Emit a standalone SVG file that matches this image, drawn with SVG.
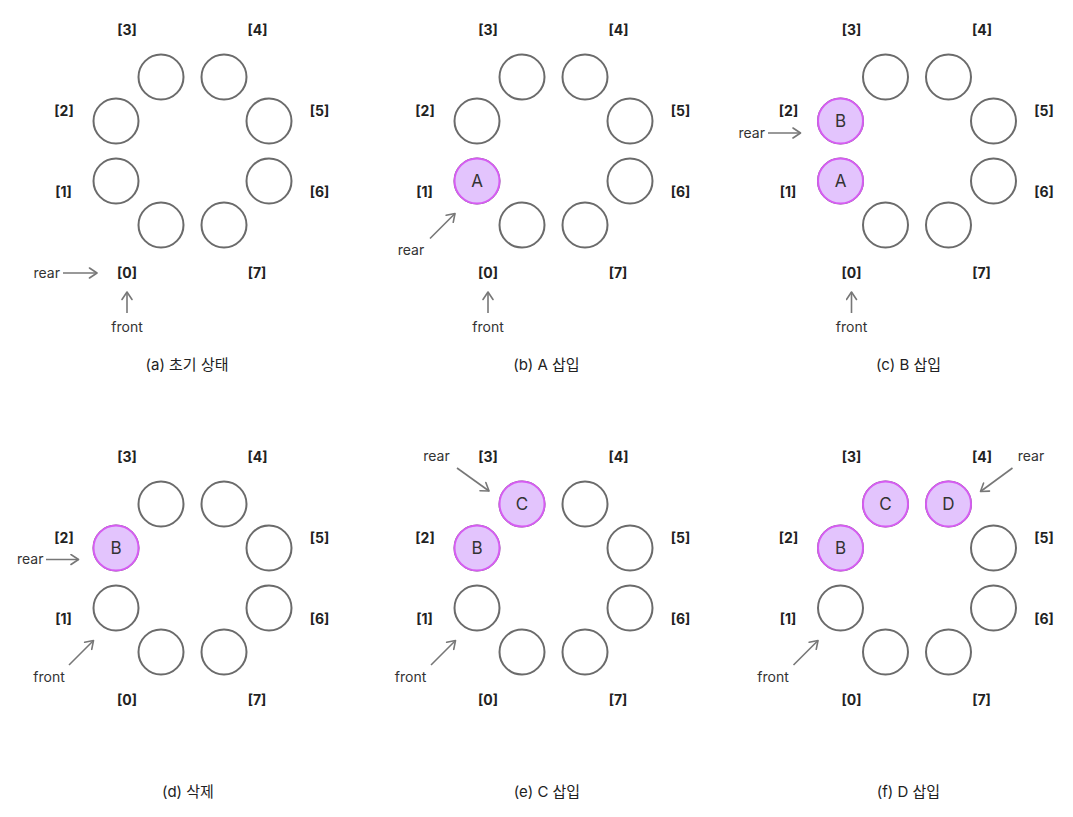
<svg xmlns="http://www.w3.org/2000/svg" width="1073" height="817" viewBox="0 0 1073 817">
<style>
.slot{fill:#ffffff;stroke:#6b6b6b;stroke-width:2}
.on{fill:#e3c4fd;stroke:#d65cf2;stroke-width:2}
.val{font-family:Inter,"Liberation Sans","Noto Sans CJK KR",sans-serif;font-size:17px;fill:#333;text-anchor:middle}
.idx{font-family:Inter,"Liberation Sans","Noto Sans CJK KR",sans-serif;font-size:14px;font-weight:700;fill:#222;text-anchor:middle}
.lbl{font-family:Inter,"Liberation Sans","Noto Sans CJK KR",sans-serif;font-size:14px;fill:#333}
.cap{font-family:Inter,"Liberation Sans","Noto Sans CJK KR",sans-serif;font-size:15px;fill:#222;text-anchor:middle}
.arr{stroke:#777;stroke-width:1.6;fill:none;marker-end:url(#ah)}
</style>
<defs>
<marker id="ah" markerUnits="userSpaceOnUse" markerWidth="12" markerHeight="12" viewBox="-9 -6 10 12" refX="0" refY="0" orient="auto">
<path d="M-7.5,-5 L0,0 L-7.5,5" fill="none" stroke="#777" stroke-width="1.6" stroke-linecap="round" stroke-linejoin="round"/>
</marker>
<g id="ring">
<circle class="slot" cx="161" cy="225" r="22.5"/>
<circle class="slot" cx="116" cy="181" r="22.5"/>
<circle class="slot" cx="116" cy="121" r="22.5"/>
<circle class="slot" cx="161" cy="77" r="22.5"/>
<circle class="slot" cx="224" cy="77" r="22.5"/>
<circle class="slot" cx="269" cy="121" r="22.5"/>
<circle class="slot" cx="269" cy="181" r="22.5"/>
<circle class="slot" cx="224" cy="225" r="22.5"/>
<text class="idx" x="127" y="278">[0]</text>
<text class="idx" x="63.5" y="197">[1]</text>
<text class="idx" x="64" y="115.5">[2]</text>
<text class="idx" x="127" y="35">[3]</text>
<text class="idx" x="257.5" y="35">[4]</text>
<text class="idx" x="319.5" y="115.5">[5]</text>
<text class="idx" x="319.5" y="197">[6]</text>
<text class="idx" x="257" y="278">[7]</text>
</g>
</defs>

<!-- (a) -->
<g id="panel-a">
<use href="#ring"/>
<text class="cap" x="187" y="369.5">(a) 초기 상태</text>
</g>
<!-- (b) -->
<g id="panel-b" transform="translate(361,0)">
<use href="#ring"/>
<g id="b-slot1"><circle class="on" cx="116" cy="181" r="22.5"/><text class="val" x="116" y="187">A</text></g>
<text class="cap" x="185.5" y="369.5">(b) A 삽입</text>
</g>
<!-- (c) -->
<g id="panel-c" transform="translate(724.5,0)">
<use href="#ring"/>
<g id="c-slot1"><circle class="on" cx="116" cy="181" r="22.5"/><text class="val" x="116" y="187">A</text></g>
<g id="c-slot2"><circle class="on" cx="116" cy="121" r="22.5"/><text class="val" x="116" y="127">B</text></g>
<text class="cap" x="184" y="369.5">(c) B 삽입</text>
</g>
<!-- (d) -->
<g id="panel-d" transform="translate(0,427)">
<use href="#ring"/>
<g id="d-slot2"><circle class="on" cx="116" cy="121" r="22.5"/><text class="val" x="116" y="127">B</text></g>
<text class="cap" x="188" y="370">(d) 삭제</text>
</g>
<!-- (e) -->
<g id="panel-e" transform="translate(361,427)">
<use href="#ring"/>
<g id="e-slot2"><circle class="on" cx="116" cy="121" r="22.5"/><text class="val" x="116" y="127">B</text></g>
<g id="e-slot3"><circle class="on" cx="161" cy="77" r="22.5"/><text class="val" x="161" y="83">C</text></g>
<text class="cap" x="186" y="370">(e) C 삽입</text>
</g>
<!-- (f) -->
<g id="panel-f" transform="translate(724.5,427)">
<use href="#ring"/>
<g id="f-slot2"><circle class="on" cx="116" cy="121" r="22.5"/><text class="val" x="116" y="127">B</text></g>
<g id="f-slot3"><circle class="on" cx="161" cy="77" r="22.5"/><text class="val" x="161" y="83">C</text></g>
<g id="f-slot4"><circle class="on" cx="224" cy="77" r="22.5"/><text class="val" x="224" y="83">D</text></g>
<text class="cap" x="184" y="370">(f) D 삽입</text>
</g>

<!-- pointers -->
<g id="connectors">
<!-- (a) -->
<line class="arr" x1="63" y1="273" x2="97" y2="273"/>
<text class="lbl" x="60" y="277.5" text-anchor="end">rear</text>
<line class="arr" x1="127" y1="313" x2="127" y2="292"/>
<text class="lbl" x="127" y="331.5" text-anchor="middle">front</text>
<!-- (b) -->
<line class="arr" x1="430" y1="238.5" x2="455" y2="213.5"/>
<text class="lbl" x="411" y="255" text-anchor="middle">rear</text>
<line class="arr" x1="488" y1="313" x2="488" y2="292"/>
<text class="lbl" x="488" y="331.5" text-anchor="middle">front</text>
<!-- (c) -->
<line class="arr" x1="768" y1="133" x2="800.5" y2="133"/>
<text class="lbl" x="765" y="137.5" text-anchor="end">rear</text>
<line class="arr" x1="851.5" y1="313" x2="851.5" y2="292"/>
<text class="lbl" x="851.5" y="331.5" text-anchor="middle">front</text>
<!-- (d) -->
<line class="arr" x1="46" y1="559.5" x2="78.5" y2="559.5"/>
<text class="lbl" x="43.5" y="564" text-anchor="end">rear</text>
<line class="arr" x1="69" y1="665" x2="93.5" y2="640.5"/>
<text class="lbl" x="49" y="682" text-anchor="middle">front</text>
<!-- (e) -->
<line class="arr" x1="457" y1="468" x2="489" y2="491"/>
<text class="lbl" x="436.5" y="461" text-anchor="middle">rear</text>
<line class="arr" x1="431" y1="665" x2="455.5" y2="640.5"/>
<text class="lbl" x="410.5" y="682" text-anchor="middle">front</text>
<!-- (f) -->
<line class="arr" x1="1012.5" y1="468" x2="980.5" y2="491.5"/>
<text class="lbl" x="1031" y="461" text-anchor="middle">rear</text>
<line class="arr" x1="793.5" y1="665" x2="818" y2="640.5"/>
<text class="lbl" x="773" y="682" text-anchor="middle">front</text>
</g>
</svg>
